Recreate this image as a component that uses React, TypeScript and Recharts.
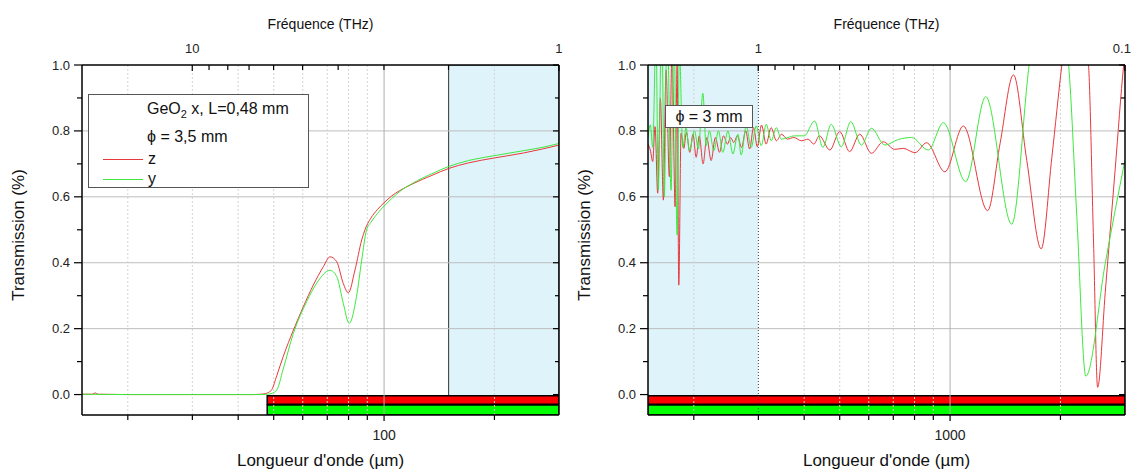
import React from 'react';
import { LineChart, Line, XAxis, YAxis, ReferenceArea, ReferenceLine, Legend } from 'recharts';

const FONT = '"Liberation Sans", Arial, Helvetica, sans-serif';
const C_UM_THZ = 299.792458;

// ---------- axes ----------
const L_XDOMAIN = [15, 300];
const R_XDOMAIN = [150, 3000];
const Y_DOMAIN = [-0.062, 1];
const L_BOTTOM_TICKS = [20, 30, 40, 50, 60, 70, 80, 90, 100, 200];
const L_BOTTOM_LABELS = [100];
const R_BOTTOM_TICKS = [200, 300, 400, 500, 600, 700, 800, 900, 1000, 2000];
const R_BOTTOM_LABELS = [1000];
const L_TOP_FREQS = [10, 9, 8, 7, 6, 5, 4, 3, 2, 1];
const L_TOP_LABELS = ['10', '1'];
const R_TOP_FREQS = [1, 0.9, 0.8, 0.7, 0.6, 0.5, 0.4, 0.3, 0.2, 0.1];
const R_TOP_LABELS = ['1', '0.1'];
const Y_TICKS = [0, 0.1, 0.2, 0.3, 0.4, 0.5, 0.6, 0.7, 0.8, 0.9, 1];
const Y_LABELS = ['0.0', '0.2', '0.4', '0.6', '0.8', '1.0'];
const H_GRID = [0.2, 0.4, 0.6, 0.8];
const LEGEND_ORDER = ['z', 'y'];

// ---------- left panel data ----------
const L_Z_WL = [15, 16, 16.3, 16.6, 20, 25, 30, 35, 40, 44, 46, 47.5, 48.5, 49.4, 51, 53.1, 56.6, 60.2, 64.1, 68.3, 71.2, 74.3, 77.4, 79.9, 83.3, 86.9, 88.7, 92, 96, 100, 105, 110, 120, 135, 150, 170, 200, 240, 270, 300];
const L_Z_VAL = [0.001, 0.001, 0.005, 0.001, 0.0, 0.0, 0.0, 0.0, 0.0, 0.0, 0.001, 0.003, 0.007, 0.015, 0.058, 0.116, 0.196, 0.266, 0.332, 0.388, 0.418, 0.403, 0.337, 0.309, 0.378, 0.469, 0.5, 0.535, 0.562, 0.582, 0.603, 0.618, 0.64, 0.665, 0.686, 0.703, 0.718, 0.733, 0.745, 0.757];
const L_Y_WL = [15, 20, 30, 40, 46, 48, 49.5, 51, 53, 56.6, 61.5, 65.5, 71.2, 74.3, 77.4, 80.3, 84.1, 86.9, 89.6, 92, 96, 100, 105, 110, 120, 135, 150, 170, 200, 240, 270, 300];
const L_Y_VAL = [0.001, 0.0, 0.0, 0.0, 0.0, 0.001, 0.004, 0.014, 0.075, 0.186, 0.282, 0.338, 0.377, 0.358, 0.277, 0.216, 0.297, 0.408, 0.5, 0.522, 0.55, 0.572, 0.595, 0.615, 0.642, 0.67, 0.692, 0.71, 0.725, 0.74, 0.75, 0.762];

// ---------- right panel data ----------
const R_Z_WL = [150, 152.2, 154.5, 156.8, 159.4, 162.1, 165.2, 168.0, 171.5, 174.5, 177.8, 180.1, 182.0, 184.6, 187.8, 191, 195, 199, 203, 207, 212, 217, 223, 229, 235, 241, 247, 252, 257, 263, 270, 277, 284, 291, 298, 306, 315, 325, 336, 347, 360, 375, 393, 410, 425, 440, 470, 500, 532, 567, 610, 657, 707, 745, 802, 863, 968, 1087, 1266, 1369, 1489, 1619, 1772, 1895, 2018, 2200, 2386, 2463, 2526, 2650, 2822, 2975, 3000];
const R_Z_VAL = [0.76, 0.742, 0.707, 0.813, 0.611, 0.899, 0.59, 0.985, 0.661, 1.05, 0.57, 1.0, 0.332, 0.793, 0.747, 0.795, 0.735, 0.79, 0.72, 0.785, 0.70, 0.78, 0.71, 0.78, 0.735, 0.785, 0.76, 0.78, 0.765, 0.785, 0.75, 0.80, 0.745, 0.81, 0.752, 0.818, 0.76, 0.81, 0.77, 0.79, 0.775, 0.78, 0.77, 0.775, 0.76, 0.785, 0.742, 0.798, 0.737, 0.79, 0.732, 0.767, 0.744, 0.747, 0.734, 0.764, 0.676, 0.815, 0.558, 0.762, 0.97, 0.71, 0.442, 0.72, 1.0, 1.3, 1.0, 0.457, 0.022, 0.31, 0.687, 1.0, 1.04];
const R_Y_WL = [150, 152.2, 154.5, 157.7, 160.0, 163.5, 166.2, 169.1, 173.4, 176.4, 180.1, 182.7, 186.6, 190.5, 194.5, 200.8, 205.9, 211.7, 216.1, 220.6, 226.8, 233.5, 240.0, 247.7, 255.6, 263.8, 269.3, 278.0, 286.8, 296.0, 305.5, 315.2, 325.3, 335.7, 346.5, 361.4, 376.7, 400, 427, 450, 474, 505, 536, 573, 610, 664, 722, 785, 872, 959, 1103, 1251, 1473, 1643, 1850, 2105, 2217, 2346, 2650, 3000];
const R_Y_VAL = [0.78, 0.818, 0.75, 1.1, 0.62, 1.15, 0.60, 1.15, 0.62, 1.15, 0.484, 1.05, 0.75, 0.81, 0.74, 0.80, 0.745, 0.914, 0.755, 0.80, 0.74, 0.80, 0.735, 0.80, 0.73, 0.79, 0.727, 0.815, 0.75, 0.815, 0.755, 0.82, 0.77, 0.81, 0.775, 0.78, 0.785, 0.785, 0.83, 0.75, 0.82, 0.752, 0.828, 0.757, 0.808, 0.757, 0.774, 0.78, 0.742, 0.825, 0.646, 0.904, 0.517, 1.0, 1.35, 1.0, 0.54, 0.056, 0.398, 0.712];

// ---------- decorations (in data units) ----------
const L_SHADE = [150, 300];
const R_SHADE = [150, 300];
const L_BAR_START = 48;
const R_BAR_START = 150;
const RED_BAR_Y = [-0.0036, -0.0297];
const GREEN_BAR_Y = [-0.032, -0.062];
const L_VGRID_MINOR = [20, 30, 40, 50, 60, 70, 80, 90, 200];
const L_VGRID_MAJOR = [100];
const R_VGRID_MINOR = [200, 400, 500, 600, 700, 800, 900, 2000];
const R_VGRID_MAJOR = [1000];

const zip = (xs: number[], vs: number[]) => xs.map((x, i) => ({ x, v: vs[i] }));

const RED = '#e8383c';
const GREEN = '#3ee83e';

function makeBottomTick(labels: number[]) {
  return (p: any) => {
    const major = labels.includes(p.payload.value);
    return (
      <g>
        <line x1={p.x} x2={p.x} y1={p.y} y2={p.y + (major ? 6 : 5)} stroke="#000" strokeWidth={1.2} />
        {major && (
          <text x={p.x} y={p.y + 25} textAnchor="middle" fontSize={14} fontFamily={FONT} fill="#222">
            {p.payload.value}
          </text>
        )}
      </g>
    );
  };
}

function makeTopTick(labels: string[], lastShift: number) {
  return (p: any) => {
    const f = C_UM_THZ / p.payload.value;
    const txt = String(Math.round(f * 10) / 10);
    const major = labels.includes(txt);
    const isLast = txt === labels[labels.length - 1];
    return (
      <g>
        <line x1={p.x} x2={p.x} y1={p.y} y2={p.y + (major ? 6 : 5)} stroke="#000" strokeWidth={1.2} />
        {major && (
          <text x={isLast ? p.x + lastShift : p.x} y={p.y - 12} textAnchor="middle" fontSize={13} fontFamily={FONT} fill="#222">
            {txt}
          </text>
        )}
      </g>
    );
  };
}

const leftYTick = (p: any) => {
  const txt = Number(p.payload.value).toFixed(1);
  const major = Y_LABELS.includes(txt);
  return (
    <g>
      <line x1={p.x - (major ? 8 : 5)} x2={p.x} y1={p.y} y2={p.y} stroke="#000" strokeWidth={1.2} />
      {major && (
        <text x={p.x - 12} y={p.y + 4.5} textAnchor="end" fontSize={13} fontFamily={FONT} fill="#222">
          {txt}
        </text>
      )}
    </g>
  );
};

const rightYTick = (p: any) => {
  const txt = Number(p.payload.value).toFixed(1);
  const major = Y_LABELS.includes(txt);
  return <line x1={p.x - (major ? 6 : 4)} x2={p.x} y1={p.y} y2={p.y} stroke="#000" strokeWidth={1.2} />;
};

const LegendLeft = (props: any) => {
  const raw = (props.payload || []) as any[];
  const items = [...raw].sort((a, b) => LEGEND_ORDER.indexOf(a.value) - LEGEND_ORDER.indexOf(b.value));
  return (
    <div style={{ position: 'relative', width: 221, height: 94, border: '1px solid #555', background: '#fff', boxSizing: 'border-box', fontFamily: FONT, fontSize: 16, color: '#111' }}>
      <div style={{ position: 'absolute', left: 58, top: 5, whiteSpace: 'nowrap' }}>
        GeO<sub style={{ fontSize: 11 }}>2</sub> x, L=0,48 mm
      </div>
      <div style={{ position: 'absolute', left: 58, top: 33, whiteSpace: 'nowrap' }}>ϕ = 3,5 mm</div>
      {items.map((it, i) => {
        const col = (it.payload && it.payload.stroke) || it.color;
        return (
          <div key={i} style={{ position: 'absolute', left: 14, top: 54 + i * 20, height: 20, display: 'flex', alignItems: 'center', whiteSpace: 'nowrap' }}>
            <span style={{ display: 'inline-block', width: 40, height: 0, borderTop: `1px solid ${col}`, marginRight: 5 }} />
            <span>{it.value}</span>
          </div>
        );
      })}
    </div>
  );
};

const LegendRight = () => (
  <div style={{ width: 88, height: 23, border: '1px solid #555', background: '#fff', boxSizing: 'border-box', fontFamily: FONT, fontSize: 16, color: '#111', textAlign: 'center', lineHeight: '21px', whiteSpace: 'nowrap' }}>
    ϕ = 3 mm
  </div>
);

type PanelProps = {
  offsetLeft: number;
  xDomain: number[];
  bottomTicks: number[];
  bottomLabels: number[];
  topFreqs: number[];
  topLabels: string[];
  topLastShift: number;
  zData: { x: number; v: number }[];
  yData: { x: number; v: number }[];
  shade: number[];
  shadeStroke: boolean;
  barStart: number;
  vMinor: number[];
  vMajor: number[];
  legend: any;
  legendPos: { left: number; top: number; width: number; height: number };
};

function Panel(pp: PanelProps) {
  const topTicks = pp.topFreqs.map((f) => C_UM_THZ / f);
  const xEnd = pp.xDomain[1];
  return (
    <div style={{ position: 'absolute', left: pp.offsetLeft, top: 0 }}>
      <LineChart width={566} height={470} margin={{ top: 35, right: 6, bottom: 25, left: 42 }}>
        <ReferenceArea xAxisId="b" yAxisId="l" x1={pp.shade[0]} x2={pp.shade[1]} y1={Y_DOMAIN[0]} y2={Y_DOMAIN[1]} fill="#dff3fb" fillOpacity={1} stroke={pp.shadeStroke ? '#333' : 'none'} strokeWidth={1} ifOverflow="hidden" />
        {!pp.shadeStroke && (
          <ReferenceLine xAxisId="b" yAxisId="l" x={pp.shade[1]} stroke="#444" strokeDasharray="1 2" />
        )}
        {H_GRID.map((v) => (
          <ReferenceLine key={'h' + v} xAxisId="b" yAxisId="l" y={v} stroke="#bdbdbd" strokeWidth={1} />
        ))}
        {pp.vMinor.map((v) => (
          <ReferenceLine key={'vm' + v} xAxisId="b" yAxisId="l" x={v} stroke="#d4d4d4" strokeDasharray="2 2" strokeWidth={1} />
        ))}
        {pp.vMajor.map((v) => (
          <ReferenceLine key={'vM' + v} xAxisId="b" yAxisId="l" x={v} stroke="#b0b0b0" strokeWidth={1} />
        ))}
        <XAxis
          xAxisId="b"
          dataKey="x"
          type="number"
          scale="log"
          domain={pp.xDomain}
          allowDataOverflow
          ticks={pp.bottomTicks}
          interval={0}
          tickSize={0}
          tickMargin={0}
          tickLine={false}
          height={30}
          axisLine={{ stroke: '#000', strokeWidth: 1.5 }}
          tick={makeBottomTick(pp.bottomLabels)}
          label={(lp: any) => {
            const vb = lp.viewBox || {};
            return (
              <text x={vb.x + vb.width / 2} y={466} textAnchor="middle" fontSize={17} fontFamily={FONT} fill="#111">
                Longueur d'onde (µm)
              </text>
            );
          }}
        />
        <XAxis
          xAxisId="t"
          orientation="top"
          dataKey="x"
          type="number"
          scale="log"
          domain={pp.xDomain}
          allowDataOverflow
          ticks={topTicks}
          interval={0}
          tickSize={0}
          tickMargin={0}
          tickLine={false}
          height={30}
          axisLine={{ stroke: '#000', strokeWidth: 1.5 }}
          tick={makeTopTick(pp.topLabels, pp.topLastShift)}
          label={(lp: any) => {
            const vb = lp.viewBox || {};
            return (
              <text x={vb.x + vb.width / 2} y={29} textAnchor="middle" fontSize={14} fontFamily={FONT} fill="#111">
                Fréquence (THz)
              </text>
            );
          }}
        />
        <YAxis
          yAxisId="l"
          type="number"
          domain={Y_DOMAIN}
          allowDataOverflow
          ticks={Y_TICKS}
          interval={0}
          width={40}
          tickSize={0}
          tickMargin={0}
          tickLine={false}
          axisLine={{ stroke: '#000', strokeWidth: 1.5 }}
          tick={leftYTick}
          label={() => (
            <text x={24} y={235} transform="rotate(-90 24 235)" textAnchor="middle" fontSize={17} fontFamily={FONT} fill="#111">
              Transmission (%)
            </text>
          )}
        />
        <YAxis
          yAxisId="r"
          orientation="right"
          type="number"
          domain={Y_DOMAIN}
          allowDataOverflow
          ticks={Y_TICKS}
          interval={0}
          width={1}
          tickSize={0}
          tickMargin={0}
          tickLine={false}
          axisLine={{ stroke: '#000', strokeWidth: 1.5 }}
          tick={rightYTick}
        />
        <Line xAxisId="b" yAxisId="l" name="z" data={pp.zData} dataKey="v" type="monotone" stroke={RED} strokeWidth={1} dot={false} activeDot={false} isAnimationActive={false} />
        <Line xAxisId="b" yAxisId="l" name="y" data={pp.yData} dataKey="v" type="monotone" stroke={GREEN} strokeWidth={1} dot={false} activeDot={false} isAnimationActive={false} />
        <ReferenceArea xAxisId="b" yAxisId="l" x1={pp.barStart} x2={xEnd} y1={RED_BAR_Y[0]} y2={RED_BAR_Y[1]} fill="#ff0000" fillOpacity={1} stroke="#000" strokeWidth={1.5} ifOverflow="hidden" />
        <ReferenceArea xAxisId="b" yAxisId="l" x1={pp.barStart} x2={xEnd} y1={GREEN_BAR_Y[0]} y2={GREEN_BAR_Y[1]} fill="#00ff00" fillOpacity={1} stroke="#000" strokeWidth={1.5} ifOverflow="hidden" />
        <Legend
          layout="vertical"
          align="center"
          verticalAlign="middle"
          content={pp.legend}
          wrapperStyle={{ position: 'absolute', left: pp.legendPos.left, top: pp.legendPos.top, width: pp.legendPos.width, height: pp.legendPos.height, margin: 0, padding: 0 }}
        />
      </LineChart>
    </div>
  );
}

export default function App() {
  return (
    <div style={{ position: 'absolute', left: 0, top: 0, width: 1132, height: 470, background: '#fff', overflow: 'hidden' }}>
      <Panel
        offsetLeft={0}
        xDomain={L_XDOMAIN}
        bottomTicks={L_BOTTOM_TICKS}
        bottomLabels={L_BOTTOM_LABELS}
        topFreqs={L_TOP_FREQS}
        topLabels={L_TOP_LABELS}
        topLastShift={0}
        zData={zip(L_Z_WL, L_Z_VAL)}
        yData={zip(L_Y_WL, L_Y_VAL)}
        shade={L_SHADE}
        shadeStroke={true}
        barStart={L_BAR_START}
        vMinor={L_VGRID_MINOR}
        vMajor={L_VGRID_MAJOR}
        legend={(p: any) => <LegendLeft {...p} />}
        legendPos={{ left: 88, top: 94, width: 221, height: 94 }}
      />
      <Panel
        offsetLeft={566}
        xDomain={R_XDOMAIN}
        bottomTicks={R_BOTTOM_TICKS}
        bottomLabels={R_BOTTOM_LABELS}
        topFreqs={R_TOP_FREQS}
        topLabels={R_TOP_LABELS}
        topLastShift={-3}
        zData={zip(R_Z_WL, R_Z_VAL)}
        yData={zip(R_Y_WL, R_Y_VAL)}
        shade={R_SHADE}
        shadeStroke={false}
        barStart={R_BAR_START}
        vMinor={R_VGRID_MINOR}
        vMajor={R_VGRID_MAJOR}
        legend={() => <LegendRight />}
        legendPos={{ left: 99, top: 105, width: 88, height: 23 }}
      />
    </div>
  );
}
